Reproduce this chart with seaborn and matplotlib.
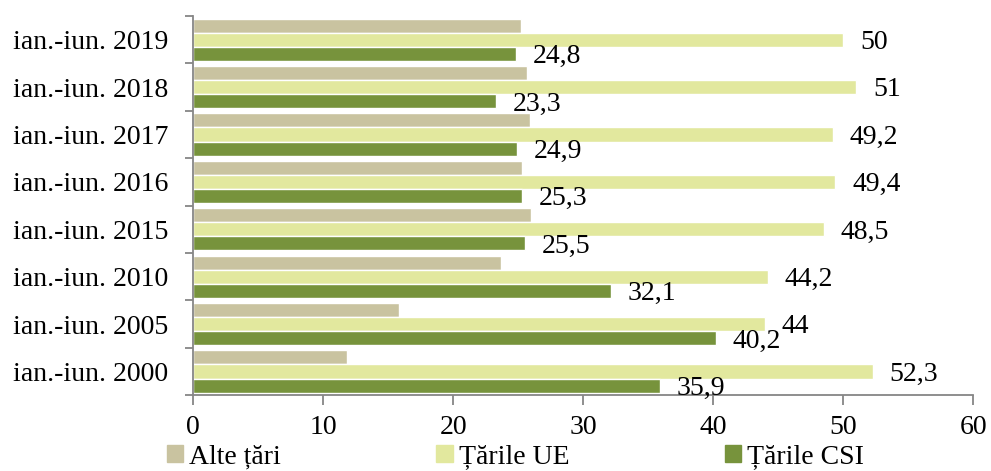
import pandas as pd
import matplotlib.pyplot as plt
import seaborn as sns
from matplotlib.ticker import MultipleLocator, FixedLocator

periods = ['ian.-iun. 2019', 'ian.-iun. 2018', 'ian.-iun. 2017', 'ian.-iun. 2016',
           'ian.-iun. 2015', 'ian.-iun. 2010', 'ian.-iun. 2005', 'ian.-iun. 2000']
alte = [25.2, 25.7, 25.9, 25.3, 26.0, 23.7, 15.8, 11.8]
ue = [50, 51, 49.2, 49.4, 48.5, 44.2, 44, 52.3]
csi = [24.8, 23.3, 24.9, 25.3, 25.5, 32.1, 40.2, 35.9]
series = ['Alte țări', 'Țările UE', 'Țările CSI']
colors = ['#C9C3A0', '#E2E89E', '#77933C']

df = pd.DataFrame({
    'period': periods * 3,
    'value': alte + ue + csi,
    'group': [s for s in series for _ in periods],
})

sns.set_style('white')
plt.rcParams['font.family'] = ['Liberation Serif', 'DejaVu Serif']
plt.rcParams['text.color'] = 'black'
plt.rcParams['xtick.labelcolor'] = 'black'
plt.rcParams['ytick.labelcolor'] = 'black'

fig = plt.figure(figsize=(9.91, 4.71), dpi=100)
ax = fig.add_axes([0.195, 0.161, 0.787, 0.805])

sns.barplot(data=df, x='value', y='period', hue='group', hue_order=series,
            palette=colors, orient='h', width=0.89, saturation=1, ax=ax,
            legend=False)

# value labels only for EU and CIS
for cont, vals in zip(ax.containers[1:], [ue, csi]):
    for bar, v in zip(cont, vals):
        ax.annotate(f'{v:g}'.replace('.', ','),
                    xy=(bar.get_width(), bar.get_y() + bar.get_height() / 2),
                    xytext=(12, -2), textcoords='offset points',
                    ha='left', va='center', fontsize=20)

ax.set_xlim(0, 60)
ax.set_ylim(len(periods) - 0.5, -0.5)
ax.xaxis.set_major_locator(MultipleLocator(10))
ax.yaxis.set_minor_locator(FixedLocator([i - 0.5 for i in range(len(periods) + 1)]))
ax.tick_params(axis='y', which='major', length=0, pad=18, labelsize=20)
ax.tick_params(axis='y', which='minor', length=6, width=1.3, color='#868686', left=True)
ax.tick_params(axis='x', length=7, width=1.3, color='#868686', bottom=True, pad=7,
               labelsize=20)
ax.set_xlabel('')
ax.set_ylabel('')

for side in ['top', 'right']:
    ax.spines[side].set_visible(False)
for side in ['left', 'bottom']:
    ax.spines[side].set_color('#868686')
    ax.spines[side].set_linewidth(1.3)

handles = [plt.Rectangle((0, 0), 1, 1, color=c) for c in colors]
fig.legend(handles, series, loc='lower left', bbox_to_anchor=(0.157, -0.02),
           ncol=3, frameon=False, fontsize=20, handlelength=0.6,
           handleheight=0.6, handletextpad=0.2, columnspacing=5.6, borderaxespad=0)

fig.savefig('out.png', dpi=100)
